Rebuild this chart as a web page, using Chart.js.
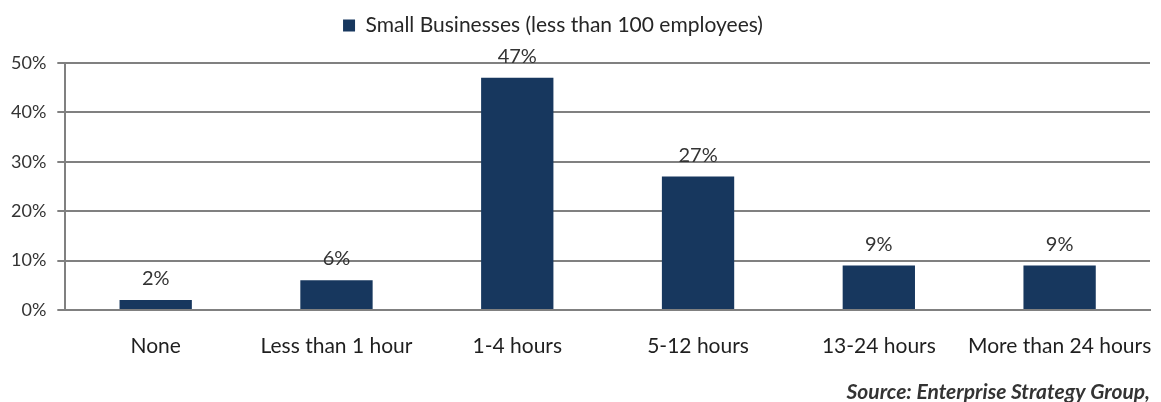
<!DOCTYPE html>
<html>
<head>
<meta charset="utf-8">
<script src="https://cdn.jsdelivr.net/npm/chart.js@4"></script>
<style>
html,body{margin:0;padding:0;background:#fff;}
#wrap{width:1161px;height:402px;}
</style>
</head>
<body>
<div id="wrap"><canvas id="c" width="1161" height="402"></canvas></div>
<script>
const categories = ["None", "Less than 1 hour", "1-4 hours", "5-12 hours", "13-24 hours", "More than 24 hours"];
const values = [2, 6, 47, 27, 9, 9];
const seriesName = "Small Businesses (less than 100 employees)";
const yTicks = [0, 10, 20, 30, 40, 50];
const sourceText = "Source: Enterprise Strategy Group,";

const FONT = "Lato, 'Open Sans', sans-serif";

const dataLabels = {
  id: 'dataLabels',
  afterDatasetsDraw(chart) {
    const ctx = chart.ctx;
    const meta = chart.getDatasetMeta(0);
    ctx.save();
    ctx.font = "20px " + FONT;
    ctx.fillStyle = "#333";
    ctx.textAlign = "center";
    ctx.textBaseline = "alphabetic";
    meta.data.forEach((bar, i) => {
      ctx.fillText(values[i] + "%", bar.x, bar.y - 15);
    });
    ctx.restore();
  }
};

const legendTweak = {
  id: 'legendTweak',
  beforeInit(chart) {
    const orig = chart.legend.fit;
    chart.legend.fit = function () {
      orig.call(this);
      this.height += 17;
    };
  },
  afterLayout(chart) {
    chart.legend.left -= 22;
    chart.legend.right -= 22;
  }
};

new Chart(document.getElementById('c'), {
  type: 'bar',
  data: {
    labels: categories,
    datasets: [{
      label: seriesName,
      data: values,
      backgroundColor: '#17375e',
      borderWidth: 0,
      barPercentage: 0.4,
      categoryPercentage: 1.0
    }]
  },
  options: {
    responsive: false,
    animation: false,
    layout: { padding: { left: 0, right: 11, top: 7, bottom: 0 } },
    plugins: {
      legend: {
        position: 'top',
        labels: {
          boxWidth: 12, boxHeight: 12,
          color: '#262626',
          font: { family: FONT, size: 21 },
          padding: 8
        }
      },
      title: {
        display: true,
        position: 'bottom',
        align: 'end',
        text: sourceText,
        color: '#333',
        font: { family: FONT, size: 21, style: 'italic', weight: 'bold', lineHeight: '20px' },
        padding: { top: 0, bottom: 0 }
      },
      tooltip: { enabled: false }
    },
    scales: {
      x: {
        grid: { display: false, drawTicks: false },
        border: { display: true, color: '#808080', width: 2 },
        ticks: { color: '#1f1f1f', font: { family: FONT, size: 21, lineHeight: '68px' }, padding: 2, maxRotation: 0, autoSkip: false }
      },
      y: {
        min: 0, max: 50,
        afterBuildTicks(scale) { scale.ticks = yTicks.map(v => ({ value: v })); },
        grid: { color: '#808080', lineWidth: 2, tickLength: 8 },
        border: { display: true, color: '#808080', width: 2 },
        ticks: { color: '#333', font: { family: FONT, size: 18 }, padding: 11, callback: v => v + '%' }
      }
    }
  },
  plugins: [dataLabels, legendTweak]
});
</script>
</body>
</html>
